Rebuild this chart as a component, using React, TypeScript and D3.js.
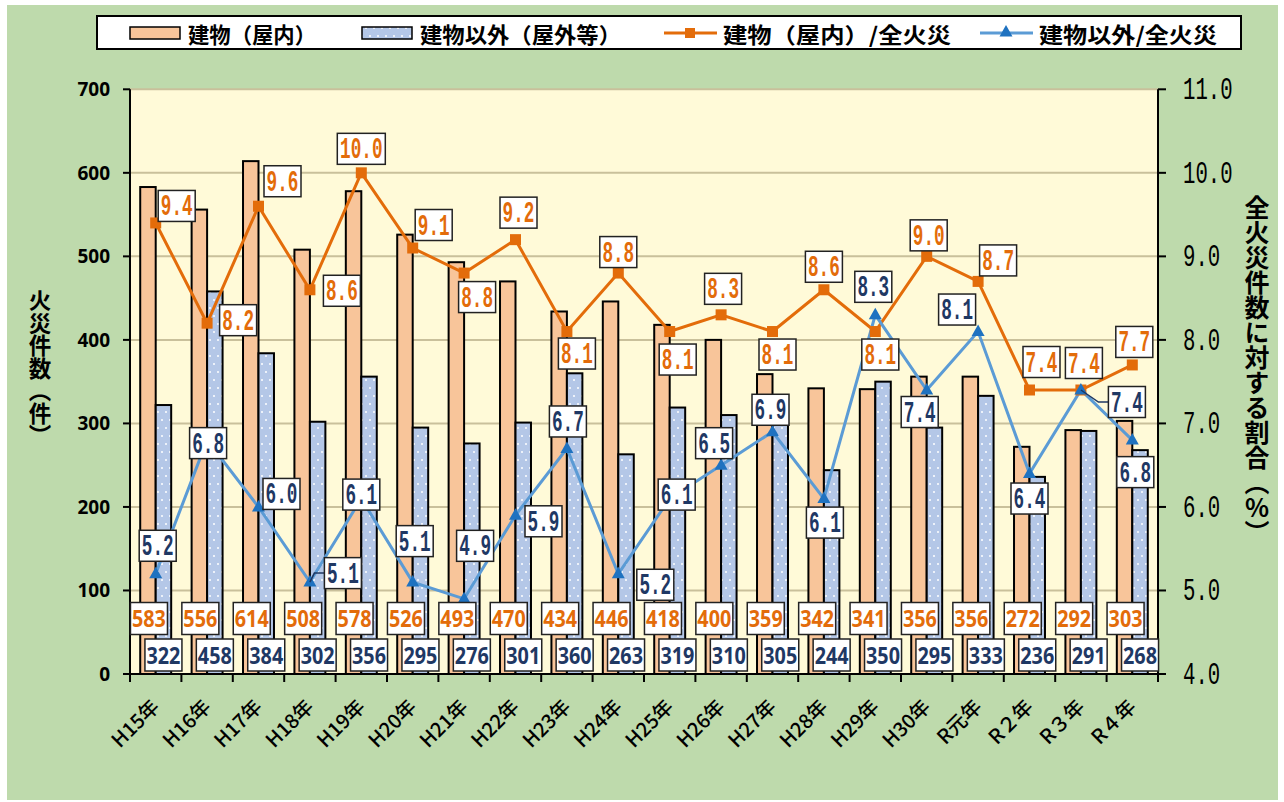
import React, { useEffect, useRef } from "react";
import * as d3 from "d3";

// 火災件数の推移（建物／建物以外）
const categories = [
  "H15年", "H16年", "H17年", "H18年", "H19年", "H20年", "H21年", "H22年", "H23年", "H24年",
  "H25年", "H26年", "H27年", "H28年", "H29年", "H30年", "R元年", "R２年", "R３年", "R４年",
];
const indoor = [583, 556, 614, 508, 578, 526, 493, 470, 434, 446, 418, 400, 359, 342, 341, 356, 356, 272, 292, 303];
const outdoor = [322, 458, 384, 302, 356, 295, 276, 301, 360, 263, 319, 310, 305, 244, 350, 295, 333, 236, 291, 268];
const indoorRate = [9.4, 8.2, 9.6, 8.6, 10.0, 9.1, 8.8, 9.2, 8.1, 8.8, 8.1, 8.3, 8.1, 8.6, 8.1, 9.0, 8.7, 7.4, 7.4, 7.7];
const outdoorRate = [5.2, 6.8, 6.0, 5.1, 6.1, 5.1, 4.9, 5.9, 6.7, 5.2, 6.1, 6.5, 6.9, 6.1, 8.3, 7.4, 8.1, 6.4, 7.4, 6.8];
const leftTicks = [0, 100, 200, 300, 400, 500, 600, 700];
const rightTicks = [4, 5, 6, 7, 8, 9, 10, 11];

// label placement (offset of label centre from its marker)
const indoorLabelPos = [
  [21, -17], [31, -3], [24, -25], [32, 1], [0, -24], [21, -23], [13, 24], [3, -27], [10, 22], [0, -21],
  [8, 28], [2, -26], [5, 23], [0, -23], [5, 23], [2, -21], [20, -21], [12, -28], [3, -27], [2, -23],
];
const outdoorLabelPos = [
  [2, -28], [1, 3], [23, -13], [33, -9], [0, -4], [2, -41], [11, -53], [28, 6], [1, -27], [37, 11],
  [7, -4], [-7, -22], [-2, -22], [1, 24], [-2, -28], [-7, 22], [-21, -22], [0, 25], [46, 12], [3, 32],
];
const leaderIdx = [3, 18];

const W = 1284;
const H = 802;
const plot = { left: 130, right: 1158, top: 89.3, bottom: 674 };

const C = {
  green: "#BEDAAC",
  plotBg: "#FFFAD8",
  grid: "#C9C09B",
  peach: "#F8C59A",
  blueBar: "#B4C7E7",
  orange: "#E36C0A",
  blueLine: "#5B9BD5",
  blueMark: "#1F72C0",
  navy: "#1F3864",
};
const cjk = "'Noto Sans CJK JP', 'Noto Sans', sans-serif";
const mono = "'Liberation Mono', 'DejaVu Sans Mono', monospace";

export default function App() {
  const ref = useRef<SVGSVGElement>(null);

  useEffect(() => {
    const svg = d3.select(ref.current);
    svg.selectAll("*").remove();

    const defs = svg.append("defs");
    const pat = defs.append("pattern").attr("id", "dots").attr("patternUnits", "userSpaceOnUse")
      .attr("width", 8).attr("height", 16);
    pat.append("rect").attr("width", 8).attr("height", 16).attr("fill", C.blueBar);
    pat.append("circle").attr("cx", 2).attr("cy", 4).attr("r", 1).attr("fill", "#fff");
    pat.append("circle").attr("cx", 6).attr("cy", 12).attr("r", 1).attr("fill", "#fff");

    svg.append("rect").attr("x", 7).attr("y", 5).attr("width", 1271).attr("height", 795).attr("fill", C.green);

    const x = d3.scaleBand<string>().domain(categories).range([plot.left, plot.right]).padding(0);
    const inner = d3.scaleBand<string>().domain(["in", "out"]).range([0, x.bandwidth()])
      .paddingInner(0).paddingOuter(0.66);
    const yL = d3.scaleLinear().domain([0, 700]).range([plot.bottom, plot.top]);
    const yR = d3.scaleLinear().domain([4, 11]).range([plot.bottom, plot.top]);
    const cx = (i: number) => (x(categories[i]) as number) + x.bandwidth() / 2;

    // plot area
    svg.append("rect").attr("x", plot.left).attr("y", plot.top)
      .attr("width", plot.right - plot.left).attr("height", plot.bottom - plot.top).attr("fill", C.plotBg);
    svg.append("g").selectAll("line").data(leftTicks.filter(d => d > 0)).join("line")
      .attr("x1", plot.left).attr("x2", plot.right)
      .attr("y1", d => yL(d)).attr("y2", d => yL(d))
      .attr("stroke", C.grid).attr("stroke-width", 2);

    // bars
    const bars = svg.append("g").attr("stroke", "#000").attr("stroke-width", 2);
    bars.selectAll("rect.in").data(indoor).join("rect").attr("class", "in")
      .attr("x", (d, i) => (x(categories[i]) as number) + (inner("in") as number))
      .attr("y", d => yL(d)).attr("width", inner.bandwidth()).attr("height", d => plot.bottom - yL(d))
      .attr("fill", C.peach);
    bars.selectAll("rect.out").data(outdoor).join("rect").attr("class", "out")
      .attr("x", (d, i) => (x(categories[i]) as number) + (inner("out") as number))
      .attr("y", d => yL(d)).attr("width", inner.bandwidth()).attr("height", d => plot.bottom - yL(d))
      .attr("fill", "url(#dots)");

    // axes
    const ax = svg.append("g").attr("stroke", "#000").attr("stroke-width", 2);
    ax.append("line").attr("x1", plot.left).attr("x2", plot.left).attr("y1", plot.top).attr("y2", plot.bottom);
    ax.append("line").attr("x1", plot.right).attr("x2", plot.right).attr("y1", plot.top).attr("y2", plot.bottom);
    ax.append("line").attr("x1", plot.left - 7).attr("x2", plot.right).attr("y1", plot.bottom).attr("y2", plot.bottom);
    ax.selectAll("line.lt").data(leftTicks).join("line").attr("class", "lt")
      .attr("x1", plot.left - 7).attr("x2", plot.left).attr("y1", d => yL(d)).attr("y2", d => yL(d));
    ax.selectAll("line.rt").data(rightTicks).join("line").attr("class", "rt")
      .attr("x1", plot.right).attr("x2", plot.right + 8).attr("y1", d => yR(d)).attr("y2", d => yR(d));
    const bounds = categories.map(c => x(c) as number).concat([plot.right]);
    ax.selectAll("line.xt").data(bounds).join("line").attr("class", "xt")
      .attr("x1", d => d).attr("x2", d => d).attr("y1", plot.bottom).attr("y2", plot.bottom + 8);

    svg.append("g").selectAll("text").data(leftTicks).join("text")
      .attr("x", 110).attr("y", d => yL(d) + 7).attr("text-anchor", "end")
      .attr("font-family", "'Noto Sans', sans-serif").attr("font-weight", 700).attr("font-size", 19)
      .text(d => d);
    svg.append("g").selectAll("text").data(rightTicks).join("text")
      .attr("x", 1183).attr("y", d => yR(d) + 10)
      .attr("font-family", mono).attr("font-size", 31)
      .attr("textLength", d => d3.format(".1f")(d).length * 12.4).attr("lengthAdjust", "spacingAndGlyphs")
      .text(d => d3.format(".1f")(d));

    svg.append("g").selectAll("text").data(categories).join("text")
      .attr("transform", (d, i) => `translate(${cx(i) + 5},${plot.bottom + 34}) rotate(-45)`)
      .attr("text-anchor", "end").attr("font-family", cjk).attr("font-size", 20).attr("font-weight", 500)
      .text(d => d);

    // axis titles
    svg.append("text").attr("x", 40).attr("y", 368).attr("text-anchor", "middle")
      .attr("font-family", cjk).attr("font-weight", 700).attr("font-size", 22.5)
      .style("writing-mode", "vertical-rl").style("text-orientation", "upright")
      .text("火災件数（件）");
    svg.append("text").attr("x", 1257).attr("y", 370).attr("text-anchor", "middle")
      .attr("font-family", cjk).attr("font-weight", 700).attr("font-size", 25)
      .style("writing-mode", "vertical-rl").style("text-orientation", "upright")
      .text("全火災件数に対する割合（%）");

    // lines
    const tri = "M0,-7L6.5,4.5L-6.5,4.5Z";
    const lineIn = d3.line<number>().x((d, i) => cx(i)).y(d => yR(d));
    svg.append("path").datum(indoorRate).attr("d", lineIn).attr("fill", "none")
      .attr("stroke", C.orange).attr("stroke-width", 3);
    svg.append("path").datum(outdoorRate).attr("d", lineIn).attr("fill", "none")
      .attr("stroke", C.blueLine).attr("stroke-width", 3);
    svg.append("g").selectAll("rect").data(indoorRate).join("rect")
      .attr("x", (d, i) => cx(i) - 5.5).attr("y", d => yR(d) - 5.5).attr("width", 11).attr("height", 11)
      .attr("fill", C.orange);
    svg.append("g").selectAll("path").data(outdoorRate).join("path")
      .attr("transform", (d, i) => `translate(${cx(i)},${yR(d)})`).attr("d", tri).attr("fill", C.blueMark);

    // label helper
    const box = (g: any, mx: number, my: number, w: number, h: number, txt: string, color: string,
      family: string, size: number, weight: number, tl: number, shift: number) => {
      g.append("rect").attr("x", mx - w / 2).attr("y", my - h / 2).attr("width", w).attr("height", h)
        .attr("fill", "#fff").attr("stroke", "#222").attr("stroke-width", 1.5);
      g.append("text").attr("x", mx).attr("y", my + shift).attr("text-anchor", "middle")
        .attr("font-family", family).attr("font-size", size).attr("font-weight", weight).attr("fill", color)
        .attr("textLength", tl).attr("lengthAdjust", "spacingAndGlyphs").text(txt);
    };

    // bar labels
    const bl = svg.append("g");
    indoor.forEach((v, i) => {
      const bx = (x(categories[i]) as number) + (inner("in") as number) + inner.bandwidth() / 2;
      box(bl, bx + 1, yL(0) - 55.5, 37, 32, String(v), C.orange, "'Noto Sans', sans-serif", 24, 700, 34, 8.5);
    });
    outdoor.forEach((v, i) => {
      const bx = (x(categories[i]) as number) + (inner("out") as number) + inner.bandwidth() / 2;
      box(bl, bx, yL(0) - 19, 37, 32, String(v), C.navy, "'Noto Sans', sans-serif", 24, 700, 34, 8.5);
    });

    // leader lines
    const ll = svg.append("g").attr("stroke", C.navy).attr("stroke-width", 1.5).attr("fill", "none");
    leaderIdx.forEach(i => {
      const mx = cx(i), my = yR(outdoorRate[i]);
      const lx = mx + outdoorLabelPos[i][0] - 18.5, ly = my + outdoorLabelPos[i][1];
      ll.append("path").attr("d", `M${mx},${my}L${lx - 10},${ly}L${lx},${ly}`);
    });

    // rate labels
    const rl = svg.append("g");
    const fmt = d3.format(".1f");
    indoorRate.forEach((v, i) => {
      const t = fmt(v);
      box(rl, cx(i) + indoorLabelPos[i][0], yR(v) + indoorLabelPos[i][1], t.length * 11 + 4, 31, t, C.orange,
        mono, 29, 700, t.length * 10.6, 9.5);
    });
    outdoorRate.forEach((v, i) => {
      const t = fmt(v);
      box(rl, cx(i) + outdoorLabelPos[i][0], yR(v) + outdoorLabelPos[i][1], t.length * 11 + 4, 31, t, C.navy,
        mono, 29, 700, t.length * 10.6, 9.5);
    });

    // legend
    const lg = svg.append("g");
    lg.append("rect").attr("x", 97).attr("y", 16).attr("width", 1144).attr("height", 33)
      .attr("fill", "#fff").attr("stroke", "#000").attr("stroke-width", 2);
    lg.append("rect").attr("x", 130).attr("y", 27).attr("width", 50).attr("height", 12)
      .attr("fill", C.peach).attr("stroke", "#000").attr("stroke-width", 1.5);
    lg.append("rect").attr("x", 362).attr("y", 27).attr("width", 50).attr("height", 12)
      .attr("fill", "url(#dots)").attr("stroke", "#000").attr("stroke-width", 1.5);
    lg.append("line").attr("x1", 664).attr("x2", 717).attr("y1", 33).attr("y2", 33)
      .attr("stroke", C.orange).attr("stroke-width", 3);
    lg.append("rect").attr("x", 685).attr("y", 28).attr("width", 10).attr("height", 10).attr("fill", C.orange);
    lg.append("line").attr("x1", 980).attr("x2", 1033).attr("y1", 33).attr("y2", 33)
      .attr("stroke", C.blueLine).attr("stroke-width", 3);
    lg.append("path").attr("transform", "translate(1006,32)").attr("d", tri).attr("fill", C.blueMark);
    const items: [number, number, string][] = [
      [188, 128, "建物（屋内）"], [420, 201, "建物以外（屋外等）"],
      [723, 228, "建物（屋内）/全火災"], [1039, 178, "建物以外/全火災"],
    ];
    lg.selectAll("text").data(items).join("text")
      .attr("x", d => d[0]).attr("y", 33).attr("dominant-baseline", "central")
      .attr("font-family", cjk).attr("font-weight", 700).attr("font-size", 21.5)
      .attr("textLength", d => d[1]).attr("lengthAdjust", "spacingAndGlyphs")
      .text(d => d[2]);
  }, []);

  return <svg ref={ref} width={W} height={H} style={{ position: "absolute", left: 0, top: 0 }} />;
}
